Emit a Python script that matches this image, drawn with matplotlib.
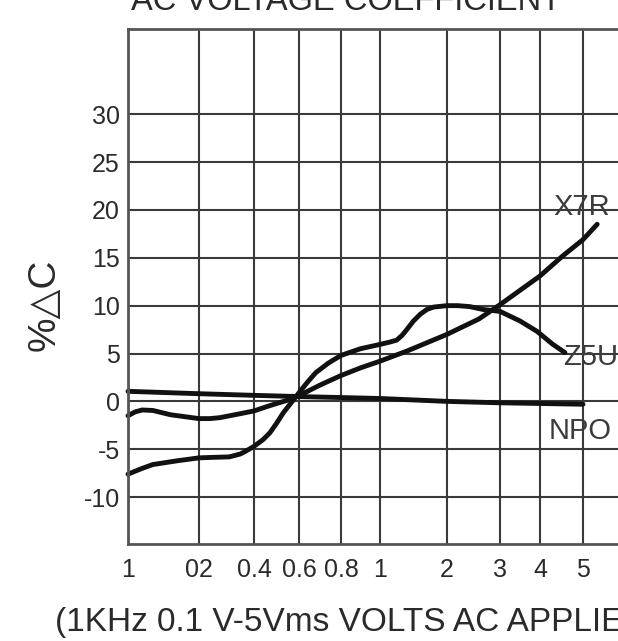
import numpy as np
import matplotlib
matplotlib.use("Agg")
import matplotlib.pyplot as plt

# ---- data ----
npo_v = [0.1, 0.2, 0.4, 0.6, 0.8, 1.0, 2.0, 3.0, 4.0, 5.0]
npo_c = [1.05, 0.8, 0.63, 0.5, 0.4, 0.3, 0.0, -0.15, -0.22, -0.3]

x7r_v = [0.1, 0.11, 0.12, 0.135, 0.16, 0.2, 0.24, 0.276, 0.33, 0.4, 0.45, 0.49,
         0.56, 0.6, 0.7, 0.8, 0.9, 1.0, 1.4, 2.0, 2.6, 3.0, 4.0, 4.53, 5.0, 5.33]
x7r_c = [-1.5, -1.1, -0.9, -0.95, -1.4, -1.8, -1.8, -1.7, -1.4, -1.0, -0.6, -0.3,
         0.2, 0.6, 1.7, 2.7, 3.5, 4.2, 5.25, 7.0, 8.6, 10.1, 13.1, 15.2, 16.9, 18.5]

z5u_v = [0.1, 0.12, 0.135, 0.17, 0.2, 0.25, 0.31, 0.35, 0.37, 0.4, 0.44, 0.47,
         0.5, 0.53, 0.57, 0.6, 0.64, 0.68, 0.74, 0.8, 0.9, 1.0, 1.15, 1.25,
         1.33, 1.4, 1.5, 1.6, 1.7, 1.8, 2.0, 2.2, 2.43, 2.68, 3.0, 3.25, 3.5,
         3.93, 4.3, 4.58]
z5u_c = [-7.6, -7.0, -6.6, -6.2, -5.9, -5.85, -5.8, -5.5, -5.2, -4.7, -4.0, -3.3,
         -2.3, -1.2, 0.0, 0.9, 2.0, 3.0, 4.0, 4.8, 5.5, 5.95, 6.2, 6.4,
         6.9, 7.5, 8.4, 9.1, 9.6, 9.85, 10.0, 10.0, 9.9, 9.6, 9.4, 8.9, 8.4,
         7.3, 5.95, 5.1]

x_ticks = [0.1, 0.2, 0.4, 0.6, 0.8, 1, 2, 3, 4, 5]
x_tick_labels = ["1", "02", "0.4", "0.6", "0.8", "1", "2", "3", "4", "5"]
y_ticks = [30, 25, 20, 15, 10, 5, 0, -5, -10]
y_tick_labels = ["30", "25", "20", "15", "10", "5", "0", "-5", "-10"]

# ---- layout: the hand-drawn, non-uniform voltage axis ----
scale_v = [0.0, 0.1, 0.2, 0.4, 0.6, 0.8, 1.0, 2.0, 3.0, 4.0, 5.0, 6.0, 7.0]
scale_p = [57, 128, 199, 254, 299, 341, 380, 447, 500, 540, 583, 626, 669]


def fwd(v):
    return np.interp(v, scale_v, scale_p)


def inv(p):
    return np.interp(p, scale_p, scale_v)


W, H = 618, 641
fig = plt.figure(figsize=(W / 100, H / 100), dpi=100)
fig.patch.set_facecolor("white")
left, right, top, bottom = 128, 618, 29, 544
ax = fig.add_axes([left / W, (H - bottom) / H, (right - left) / W, (bottom - top) / H])
ax.set_xscale("function", functions=(fwd, inv))
ax.set_xlim(0.1, float(inv(618)))
ax.set_ylim(-14.9, 38.9)

font = ["Liberation Sans", "DejaVu Sans"]
txt_col = "#2a2a2a"

ax.set_xticks(x_ticks)
ax.set_xticklabels(x_tick_labels, fontsize=18, family=font, color=txt_col)
ax.set_yticks(y_ticks)
ax.set_yticklabels(y_tick_labels, fontsize=18, family=font, color=txt_col)
ax.xaxis.set_minor_locator(matplotlib.ticker.NullLocator())
ax.tick_params(axis="x", length=0, pad=10)
ax.tick_params(axis="y", length=0, pad=6)
ax.grid(True, color="#3a3a3a", linewidth=1.5)
ax.set_axisbelow(True)

for s in ["left", "top", "bottom"]:
    ax.spines[s].set_color("#555555")
    ax.spines[s].set_linewidth(2.0)
ax.spines["right"].set_visible(False)

lw = 3.5
for xv, yv in [(npo_v, npo_c), (x7r_v, x7r_c), (z5u_v, z5u_c)]:
    ax.plot(xv, yv, color="#111111", linewidth=lw, solid_capstyle="round",
            solid_joinstyle="round", clip_on=False)

lab_col = "#3c3c3c"
ax.text(4.30, 20.3, "X7R", fontsize=21, family=font, color=lab_col, ha="left", va="center")
ax.text(4.53, 4.6, "Z5U", fontsize=21, family=font, color=lab_col, ha="left", va="center")
ax.text(4.19, -3.1, "NPO", fontsize=21, family=font, color=lab_col, ha="left", va="center")

fig.text(45 / W, 1 - 305 / H, "%△C", rotation=90, fontsize=28, family=font,
         color=txt_col, ha="center", va="center")
fig.text(131 / W, 1 - 10 / H, "AC VOLTAGE COEFFICIENT", fontsize=23.5, family=font,
         color=txt_col, ha="left", va="baseline")
fig.text(55 / W, 1 - 622 / H, "(1KHz 0.1 V-5Vms VOLTS AC APPLIED)", fontsize=24,
         family=font, color=txt_col, ha="left", va="center")

fig.savefig("out.png", dpi=100, facecolor="white")
